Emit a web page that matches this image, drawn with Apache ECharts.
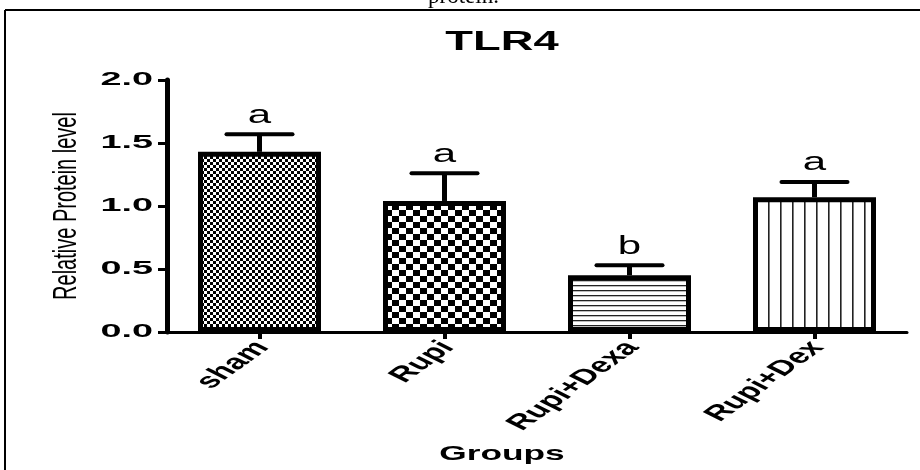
<!DOCTYPE html>
<html>
<head>
<meta charset="utf-8">
<script src="https://cdn.jsdelivr.net/npm/echarts@6/dist/echarts.min.js"></script>
<style>
html,body{margin:0;padding:0;background:#fff;}
#chart{width:920px;height:470px;}
</style>
</head>
<body>
<div id="chart"></div>
<script>
// ---- data ----
var categories = ['sham', 'Rupi', 'Rupi+Dexa', 'Rupi+Dex'];
var means = [1.43, 1.04, 0.45, 1.07];
var errors = [0.14, 0.22, 0.08, 0.12];
var letters = ['a', 'a', 'b', 'a'];
var yTicks = [0, 0.5, 1.0, 1.5, 2.0];
var titleText = 'TLR4';
var xName = 'Groups';
var yName = 'Relative Protein level';
var captionText = 'protein.';

// ---- patterns ----
function makeCanvas(w, h, draw) {
  var c = document.createElement('canvas');
  c.width = w; c.height = h;
  var ctx = c.getContext('2d');
  ctx.fillStyle = '#fff';
  ctx.fillRect(0, 0, w, h);
  draw(ctx);
  return c;
}
var fineChecker = makeCanvas(6, 6, function (ctx) {
  ctx.fillStyle = '#000';
  ctx.fillRect(0, 0, 3, 3);
  ctx.fillRect(3, 3, 3, 3);
});
var coarseChecker = makeCanvas(14, 12, function (ctx) {
  ctx.fillStyle = '#000';
  ctx.fillRect(0, 0, 7, 6);
  ctx.fillRect(7, 6, 7, 6);
});
var hLines = makeCanvas(8, 5.5, function (ctx) {
  ctx.fillStyle = '#222';
  ctx.fillRect(0, 0, 8, 1.3);
});
var vLines = makeCanvas(12.5, 8, function (ctx) {
  ctx.fillStyle = '#222';
  ctx.fillRect(0, 0, 1.6, 8);
});
var patterns = [fineChecker, coarseChecker, hLines, vLines];

var barData = means.map(function (v, i) {
  return {
    value: v,
    itemStyle: {
      color: { image: patterns[i], repeat: 'repeat' },
      borderColor: '#000',
      borderWidth: 5
    }
  };
});

var errData = means.map(function (v, i) {
  return [i, v, v + errors[i], letters[i]];
});

var SANS = '"Liberation Sans", Arial, sans-serif';
var STRETCH = 1.68;

var chart = echarts.init(document.getElementById('chart'));
chart.setOption({
  animation: false,
  backgroundColor: '#fff',
  grid: { left: 167, right: 13, top: 80, bottom: 138, containLabel: false },
  xAxis: {
    type: 'category',
    data: categories,
    axisLine: { lineStyle: { color: '#000', width: 3 } },
    axisTick: { show: true, alignWithLabel: true, length: 7, lineStyle: { color: '#000', width: 4 } },
    axisLabel: { show: false }
  },
  yAxis: {
    type: 'value',
    min: 0, max: 2, interval: 0.5,
    axisLine: { show: true, lineStyle: { color: '#000', width: 5 } },
    axisTick: { show: true, length: 9, lineStyle: { color: '#000', width: 3 } },
    splitLine: { show: false },
    axisLabel: { show: false }
  },
  series: [
    {
      type: 'bar',
      data: barData,
      barWidth: 123,
      z: 2
    },
    {
      type: 'custom',
      data: errData,
      z: 1,
      renderItem: function (params, api) {
        var x = api.value(0);
        var base = api.coord([x, api.value(1)]);
        var top = api.coord([x, api.value(2)]);
        var half = 33;
        return {
          type: 'group',
          children: [
            { type: 'line', shape: { x1: base[0], y1: base[1], x2: top[0], y2: top[1] }, style: { stroke: '#000', lineWidth: 5 } },
            { type: 'line', shape: { x1: top[0] - half, y1: top[1], x2: top[0] + half, y2: top[1] }, style: { stroke: '#000', lineWidth: 4, lineCap: 'round' } },
            {
              type: 'group', x: top[0], y: top[1] - 6, scaleX: STRETCH,
              children: [
                { type: 'text', style: { text: api.value(3), align: 'center', verticalAlign: 'bottom', font: '25px ' + SANS, fill: '#000' } }
              ]
            }
          ]
        };
      }
    }
  ]
});

// ---- stretched texts placed through the axes' own scales ----
var graphics = [
  { type: 'line', shape: { x1: 5, y1: 10, x2: 920, y2: 10 }, style: { stroke: '#000', lineWidth: 2 } },
  { type: 'line', shape: { x1: 5, y1: 10, x2: 5, y2: 470 }, style: { stroke: '#000', lineWidth: 2 } },
  { type: 'text', x: 428, y: -15, style: { text: captionText, font: '23px "Liberation Serif", "Times New Roman", serif', fill: '#000' } },
  {
    type: 'group', x: 502, y: 43, scaleX: STRETCH,
    children: [{ type: 'text', style: { text: titleText, align: 'center', verticalAlign: 'middle', font: 'bold 27px ' + SANS, fill: '#000' } }]
  },
  {
    type: 'group', x: 502, y: 454, scaleX: STRETCH,
    children: [{ type: 'text', style: { text: xName, align: 'center', verticalAlign: 'middle', font: 'bold 21px ' + SANS, fill: '#000' } }]
  },
  {
    type: 'group', x: 67, y: 206, scaleX: STRETCH,
    children: [{ type: 'text', rotation: Math.PI / 2, style: { text: yName, align: 'center', verticalAlign: 'middle', font: '20px ' + SANS, fill: '#000' } }]
  }
];
var axisY = chart.convertToPixel({ yAxisIndex: 0 }, 0);
yTicks.forEach(function (t) {
  var py = chart.convertToPixel({ yAxisIndex: 0 }, t);
  graphics.push({
    type: 'group', x: 153, y: py, scaleX: 2.1,
    children: [{ type: 'text', style: { text: t.toFixed(1), align: 'right', verticalAlign: 'middle', font: 'bold 18px ' + SANS, fill: '#000' } }]
  });
});
categories.forEach(function (c, i) {
  var px = chart.convertToPixel({ xAxisIndex: 0 }, i);
  graphics.push({
    type: 'group', x: px + 3, y: axisY + 12, scaleX: STRETCH,
    children: [{ type: 'text', rotation: 50 * Math.PI / 180, style: { text: c, align: 'right', verticalAlign: 'middle', font: 'bold 21px ' + SANS, fill: '#000' } }]
  });
});
chart.setOption({ graphic: graphics });
</script>
</body>
</html>
